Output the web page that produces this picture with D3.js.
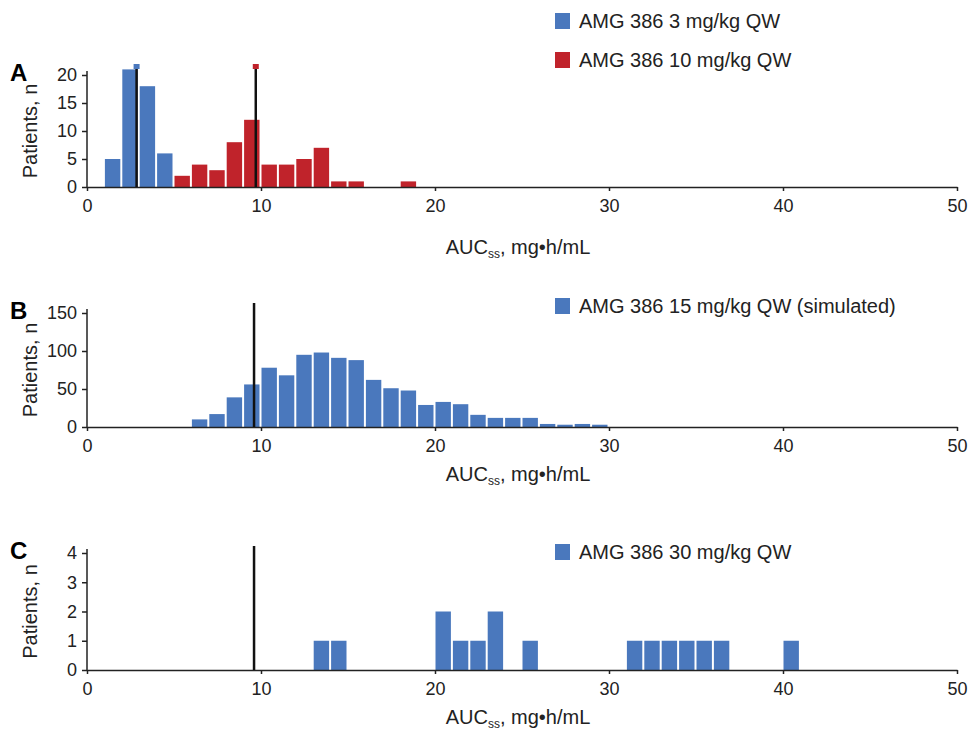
<!DOCTYPE html>
<html><head><meta charset="utf-8">
<script src="https://cdn.jsdelivr.net/npm/d3@7"></script>
<style>body{margin:0;background:#fff}text{font-family:"Liberation Sans",Arial,sans-serif}</style>
</head><body><svg id="c" width="970" height="731"></svg>
<script>
// Data: bin left edge (mg·h/mL) and patient count
var binsA3 = [[1, 5], [2, 21], [3, 18], [4, 6]];
var binsA10 = [[5, 2], [6, 4], [7, 3], [8, 8], [9, 12], [10, 4], [11, 4], [12, 5], [13, 7], [14, 1], [15, 1], [18, 1]];
var binsB = [[6, 10], [7, 17], [8, 39], [9, 56], [10, 78], [11, 68], [12, 95], [13, 98], [14, 91], [15, 88], [16, 62], [17, 51],
    [18, 48], [19, 29], [20, 33], [21, 30], [22, 16], [23, 12], [24, 12], [25, 12], [26, 4], [27, 3], [28, 4], [29, 3]];
var binsC = [[13, 1], [14, 1], [20, 2], [21, 1], [22, 1], [23, 2], [25, 1], [31, 1], [32, 1], [33, 1], [34, 1], [35, 1], [36, 1], [40, 1]];
var xTicks = [0, 10, 20, 30, 40, 50];

var blue = '#4a78bd', red = '#c0232b';
var svg = d3.select('#c');
var x = d3.scaleLinear().domain([0, 50]).range([87, 957]);

function panel(opt) {
    var y = d3.scaleLinear().domain([0, opt.ymax]).range([opt.y0, opt.ytop]);
    var g = svg.append('g');
    opt.series.forEach((s) => {
        g.selectAll(null).data(s.bins).enter().append('rect')
            .attr('x', (d) => x(d[0]) + 0.5)
            .attr('width', x(1) - x(0) - 2)
            .attr('y', (d) => y(d[1]))
            .attr('height', (d) => y(0) - y(d[1]))
            .attr('fill', s.color);
    });
    var ya = g.append('g').attr('transform', 'translate(87,0)')
        .call(d3.axisLeft(y).tickValues(opt.yticks).tickFormat(d3.format('d')).tickSize(5).tickPadding(5));
    ya.select('.domain').attr('d', `M0,${opt.y0}V${opt.ytop - 4}`);
    var xa = g.append('g').attr('transform', `translate(0,${opt.y0})`)
        .call(d3.axisBottom(x).tickValues(xTicks).tickSize(4).tickPadding(8).tickSizeOuter(0));
    [ya, xa].forEach((a) => {
        a.selectAll('text').attr('font-size', 18).attr('fill', '#222');
        a.selectAll('line,path').attr('stroke', '#222').attr('stroke-width', 1.5);
    });
    opt.lines.forEach((l) => {
        g.append('line').attr('x1', x(l.v)).attr('x2', x(l.v))
            .attr('y1', opt.lineTop).attr('y2', opt.y0)
            .attr('stroke', '#111').attr('stroke-width', 2.5);
        if (l.color) {
            g.append('rect').attr('x', x(l.v) - 3).attr('y', opt.lineTop - 1)
                .attr('width', 6).attr('height', 5).attr('fill', l.color);
        }
    });
    g.append('text').attr('x', 10).attr('y', opt.ytop + 6).attr('font-size', 24)
        .attr('font-weight', 'bold').text(opt.label);
    g.append('text').attr('transform', `translate(37,${(opt.y0 + opt.ytop) / 2}) rotate(-90)`)
        .attr('text-anchor', 'middle').attr('font-size', 20).attr('fill', '#222').text('Patients, n');
    var t = g.append('text').attr('x', 518).attr('y', opt.titleY).attr('text-anchor', 'middle')
        .attr('font-size', 20).attr('fill', '#222');
    t.append('tspan').text('AUC');
    t.append('tspan').attr('font-size', 12).attr('dy', 4).text('ss');
    t.append('tspan').attr('dy', -4).text(', mg\u2022h/mL');
    opt.legend.forEach((lg) => {
        g.append('rect').attr('x', 555).attr('y', lg.y - 8).attr('width', 15).attr('height', 16).attr('fill', lg.color);
        g.append('text').attr('x', 579).attr('y', lg.y + 7).attr('font-size', 20).attr('fill', '#222').text(lg.text);
    });
}

panel({ label: 'A', y0: 187, ytop: 75, ymax: 20, yticks: [0, 5, 10, 15, 20], lineTop: 65, titleY: 254,
    series: [{ bins: binsA3, color: blue }, { bins: binsA10, color: red }],
    lines: [{ v: 2.85, color: blue }, { v: 9.7, color: red }],
    legend: [{ y: 21, color: blue, text: 'AMG 386 3 mg/kg QW' }, { y: 60, color: red, text: 'AMG 386 10 mg/kg QW' }] });
panel({ label: 'B', y0: 427, ytop: 313, ymax: 150, yticks: [0, 50, 100, 150], lineTop: 303, titleY: 481,
    series: [{ bins: binsB, color: blue }],
    lines: [{ v: 9.6 }],
    legend: [{ y: 306, color: blue, text: 'AMG 386 15 mg/kg QW (simulated)' }] });
panel({ label: 'C', y0: 670, ytop: 553, ymax: 4, yticks: [0, 1, 2, 3, 4], lineTop: 546, titleY: 724,
    series: [{ bins: binsC, color: blue }],
    lines: [{ v: 9.6 }],
    legend: [{ y: 552, color: blue, text: 'AMG 386 30 mg/kg QW' }] });
</script></body></html>
